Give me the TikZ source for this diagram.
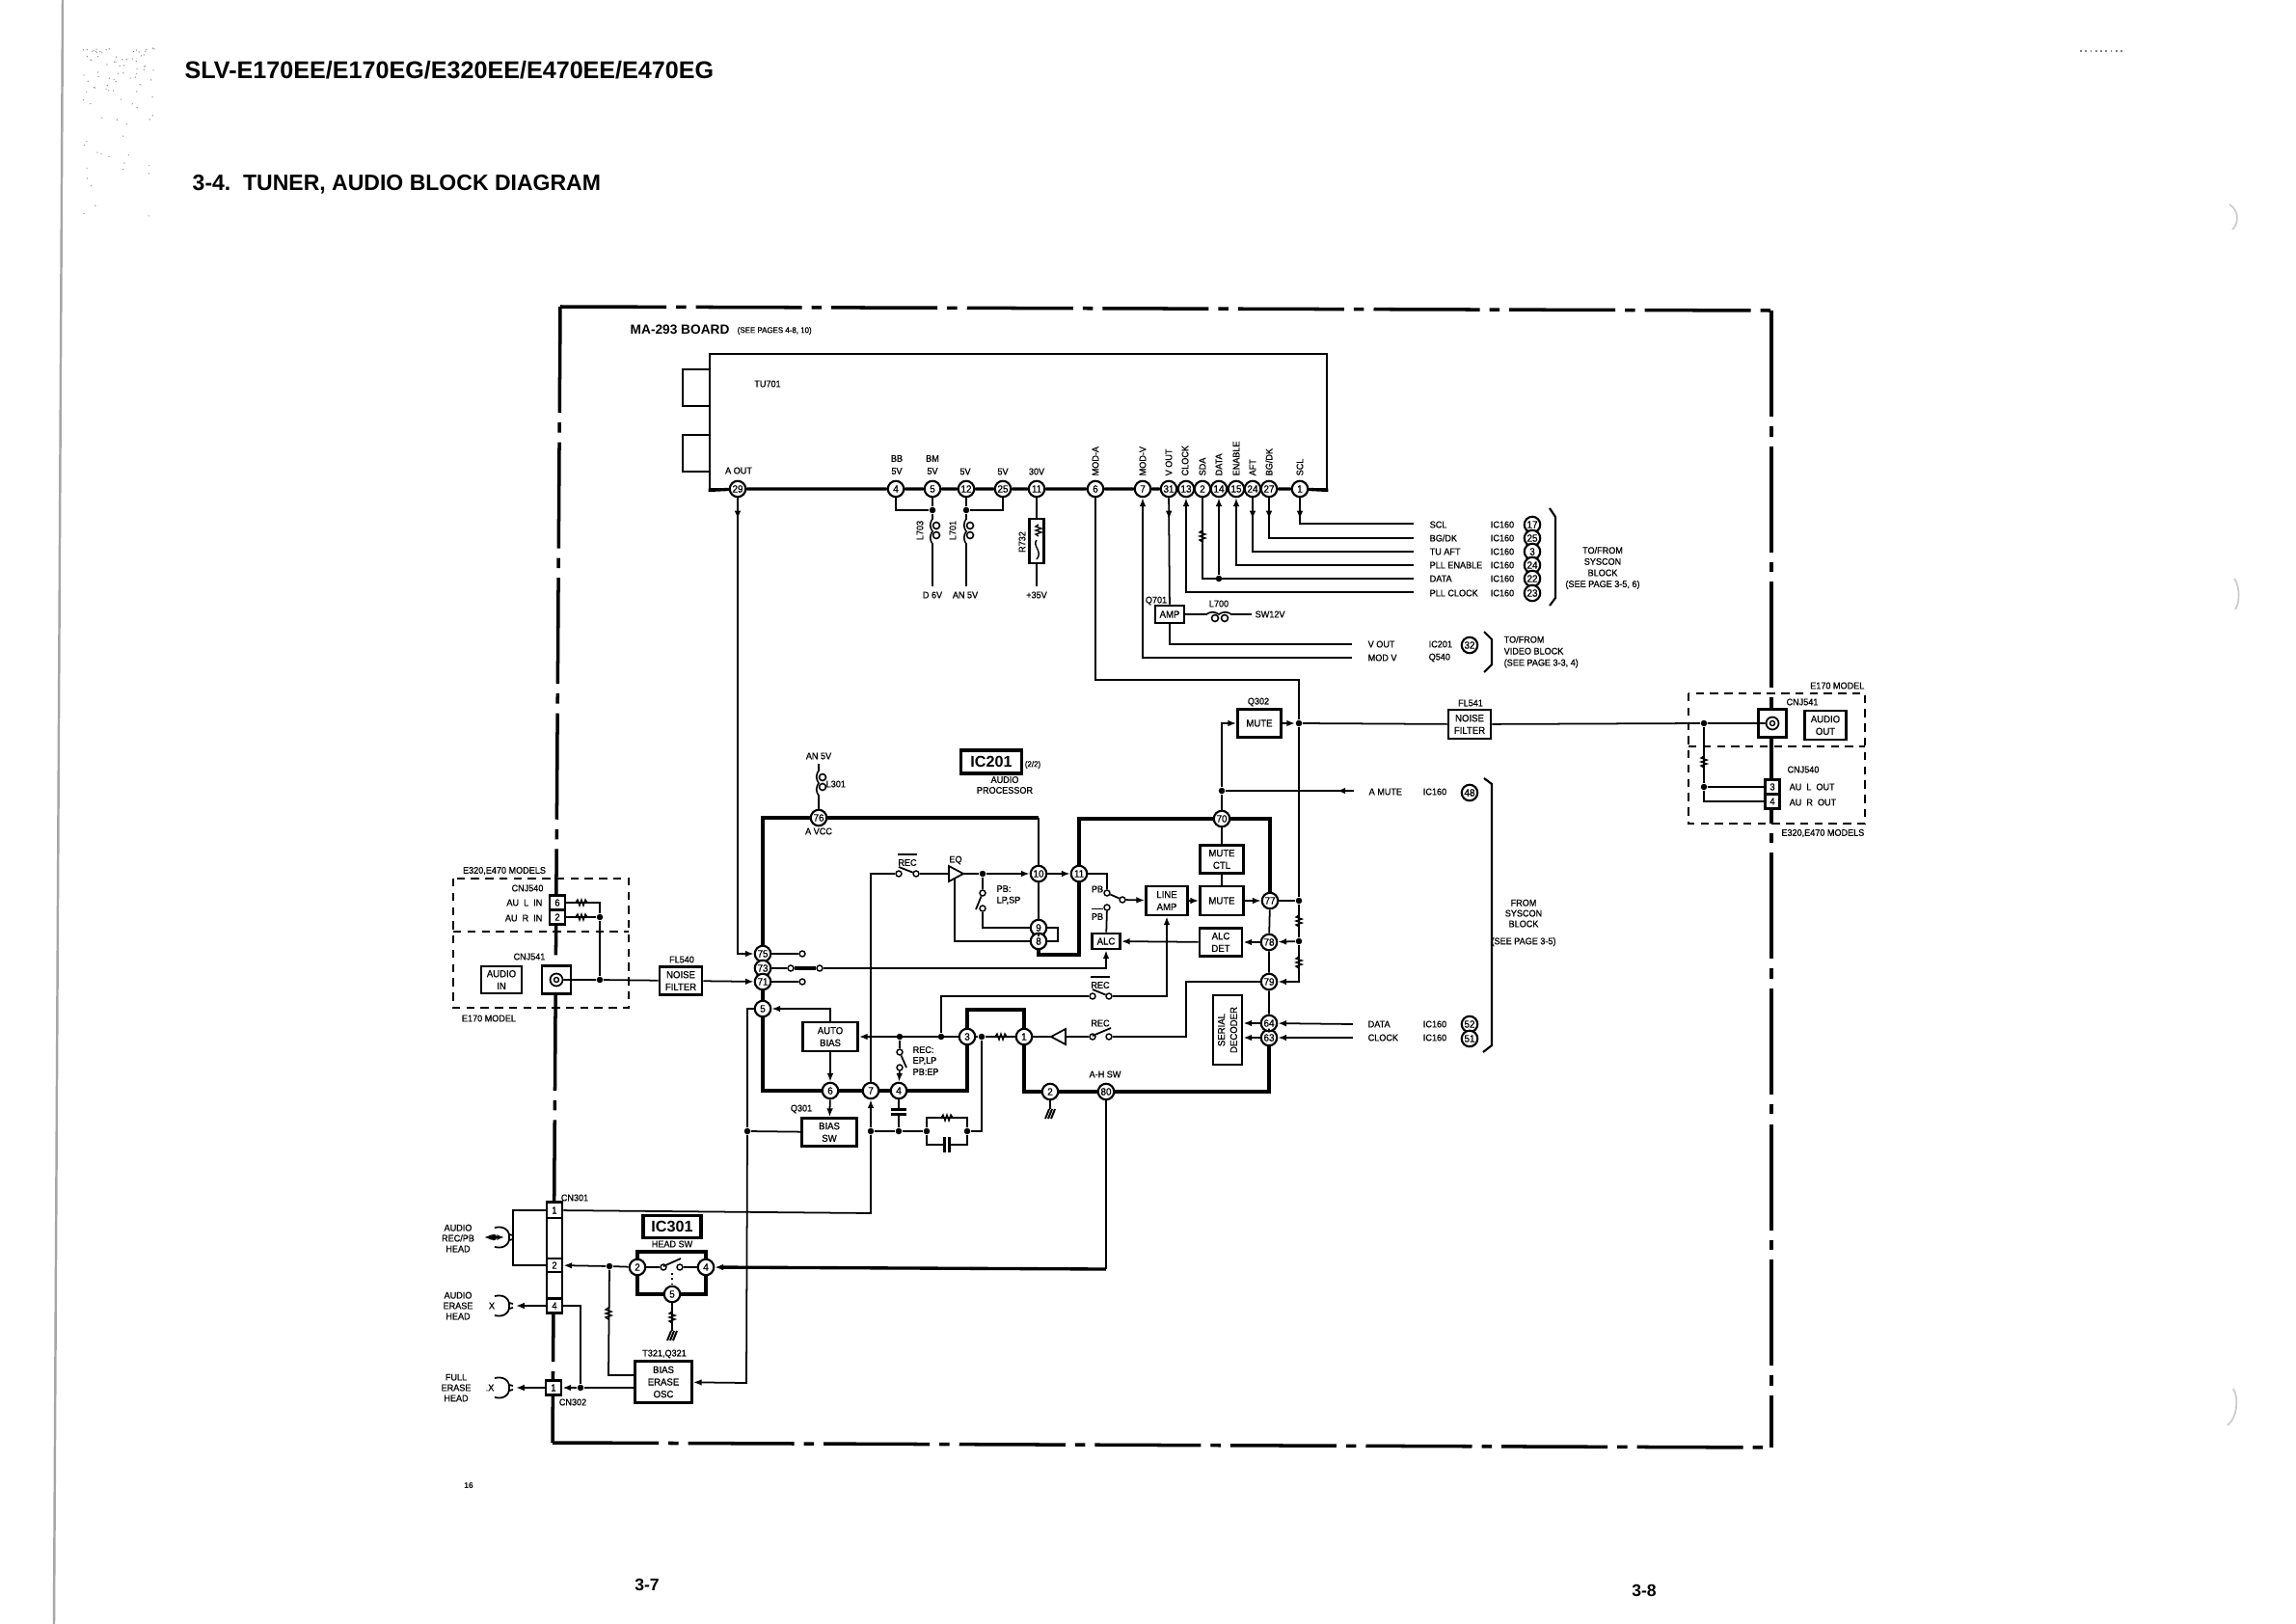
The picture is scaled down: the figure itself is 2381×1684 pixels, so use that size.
\documentclass[tikz,border=0pt]{standalone}
\usepackage{fontspec}
\setmainfont{Liberation Sans}
\newfontfamily\scanfont{Liberation Sans}[FakeBold=0.8, FakeStretch=0.94]
\usetikzlibrary{arrows.meta}
\usetikzlibrary{decorations.markings}

\newcommand{\lblsize}{\scanfont\fontsize{2.75pt}{3.1pt}\selectfont}
\newcommand{\tinysize}{\scanfont\fontsize{2.4pt}{3pt}\selectfont}
\newcommand{\pinsize}{\scanfont\fontsize{3pt}{3pt}\selectfont}
\newcommand{\boxsize}{\scanfont\fontsize{2.9pt}{3.6pt}\selectfont}
\newcommand{\icsize}{\fontsize{4.6pt}{5pt}\selectfont\bfseries}

\tikzset{
  wire/.style={line width=0.5pt},
  heavy/.style={line width=0.72pt},
  bus/.style={line width=0.95pt},
  tip/.style={-{Latex[length=2.5pt,width=1.9pt]}},
  midtip/.style={postaction={decorate},decoration={markings,
    mark=at position #1 with {\arrow{Latex[length=2.5pt,width=1.9pt]}}}},
  frameline/.style={line width=1pt, dash pattern=on 31.3pt off 2.85pt on 3pt off 2.85pt},
  dashbox/.style={line width=0.55pt, dash pattern=on 2.4pt off 1.8pt},
  lbl/.style={font=\lblsize, inner sep=0pt, align=center},
  pinc/.style={circle, draw, fill=white, line width=0.6pt, inner sep=0pt,
    minimum size=1.65mm, font=\pinsize},
  blk/.style args={#1x#2}{rectangle, draw, fill=white, line width=0.8pt, inner sep=0pt,
    align=center, font=\boxsize, minimum width=#1*0.1mm, minimum height=#2*0.1mm},
  jdot/.style={circle, fill=black, inner sep=0pt, minimum size=0.65mm},
  contact/.style={circle, draw, fill=white, line width=0.4pt, inner sep=0pt, minimum size=0.6mm},
  resr/.pic={\draw[line width=0.4pt] (-6,0)--(-4,-3)--(-2,3)--(0,-3)--(2,3)--(4,-3)--(6,0);},
  coilv/.pic={\fill[white] (-4,-12) rectangle (7,12);
    \draw[line width=0.45pt] (0,-13) .. controls (-3,-9) and (-3,-4) .. (0,0)
      .. controls (-3,4) and (-3,9) .. (0,13);
    \draw[line width=0.45pt] (4,-6) circle[radius=3.5] (4,4) circle[radius=3.5];},
  capv/.pic={\fill[white] (-8,-2.5) rectangle (8,2.5);
    \draw[line width=0.7pt] (-8,-2.5)--(8,-2.5) (-8,2.5)--(8,2.5);},
  gndh/.pic={\foreach \i in {-1,0,1}
    \draw[line width=0.55pt] ({\i*3-2},5)--({\i*3+2},-5);},
  triamp/.pic={\draw[line width=0.5pt, fill=white] (0,0)--(15,-8)--(15,8)--cycle;},
  headsym/.pic={\draw[line width=0.5pt] (-15,-10) .. controls (-6,-12) and (-1,-8) .. (0,-3)--(4,-2)
    (-15,10) .. controls (-6,12) and (-1,8) .. (0,3)--(4,2) (0,-3)--(0,3);},
}

\begin{document}
\begin{tikzpicture}[x=0.1mm, y=-0.1mm]
  \useasboundingbox (0,0) rectangle (2381,1684);
  % scan marks on the margins
  \draw[black!35, line width=0.7pt] (65,0) -- (56,1684);
  \draw[black!50, line width=0.5pt, densely dotted] (2157,53) -- (2202,53);
  \draw[black!20, line width=0.5pt] (2312,212) .. controls (2322,218) and (2322,232) .. (2315,238);
  \draw[black!20, line width=0.5pt] (2317,600) .. controls (2323,608) and (2323,625) .. (2318,632);
  \draw[black!20, line width=0.5pt] (2316,1440) .. controls (2322,1450) and (2320,1470) .. (2310,1478);
  \pgfmathsetseed{293}
  \foreach \s in {1,...,90}
    \fill[black!45] ({85+75*rnd},{50+200*rnd*rnd}) circle[radius=0.7];

  % page heads
  \node[font=\fontsize{7.15pt}{8pt}\selectfont\bfseries, anchor=west, inner sep=0pt] (pagehead) at (191,73)
    {SLV-E170EE/E170EG/E320EE/E470EE/E470EG};
  \node[font=\fontsize{6.55pt}{8pt}\selectfont\bfseries, anchor=west, inner sep=0pt] (blockhead) at (199,191)
    {3-4.~~TUNER, AUDIO BLOCK DIAGRAM};
  \node[font=\fontsize{5pt}{6pt}\selectfont\bfseries, inner sep=0pt] (pageL) at (671,1643) {3-7};
  \node[font=\fontsize{5pt}{6pt}\selectfont\bfseries, inner sep=0pt] (pageR) at (1705,1649) {3-8};
  \node[font=\fontsize{2.4pt}{3pt}\selectfont\bfseries, inner sep=0pt] (sheetno) at (486,1541) {16};

  % board outline, model boxes
  \coordinate (frameTL) at (581,318);
  \coordinate (frameTR) at (1837,322);
  \coordinate (frameBL) at (573,1496);
  \coordinate (frameBR) at (1837,1501);
  \draw[frameline] (frameTL) -- (frameTR);
  \draw[frameline] (frameTL) -- (frameBL);
  \draw[frameline] (frameBL) -- (frameBR);
  \draw[frameline] (frameTR) -- (frameBR);
  \draw[dashbox] (470,911) rectangle (652,1045);
  \draw[dashbox] (470,966) -- (652,966);
  \draw[dashbox] (1751,719) rectangle (1934,854);
  \draw[dashbox] (1751,774) -- (1934,774);

  % tuner can
  \node[blk=28x38, line width=0.55pt] (tabA) at (722,402) {};
  \node[blk=28x38, line width=0.55pt] (tabB) at (722,470) {};
  \node[blk=640x140] (tu) at (1056,437) {};

  % all the round pins
  \foreach \n/\lab/\x/\y in {tu29/29/765/507, tu4/4/929/507, tu5/5/967/507, tu12/12/1002/507,
      tu25/25/1040/507, tu11/11/1075/507, tu6/6/1136/507, tu7/7/1185/507, tu31/31/1212/507,
      tu13/13/1230/507, tu2/2/1247/507, tu14/14/1264/507, tu15/15/1282/507, tu24/24/1299/507,
      tu27/27/1316/507, tu1/1/1348/507,
      ic76/76/849/848, ic75/75/791/989, ic73/73/791/1004, ic71/71/791/1018, ic5/5/791/1046,
      ic6/6/861/1131, ic7/7/903/1131, ic4/4/932/1131, ic3/3/1003/1075, ic1/1/1062/1075,
      ic2/2/1089/1132, ic80/80/1147/1132, ic63/63/1316/1076, ic64/64/1316/1061, ic79/79/1316/1018,
      ic78/78/1316/977, ic77/77/1317/934, ic70/70/1267/849, ic11/11/1119/906, ic10/10/1077/906,
      ic9/9/1077/962, ic8/8/1077/976,
      h2/2/661/1314, h4/4/732/1314, h5/5/697/1342,
      sy17/17/1589/544, sy25/25/1589/558, sy3/3/1589/572, sy24/24/1589/586, sy22/22/1589/600,
      sy23/23/1589/615, sy32/32/1524/669, sy48/48/1524/822, sy52/52/1524/1062, sy51/51/1524/1077}
    \node[pinc] (\n) at (\x,\y) {\lab};

  % blocks
  \node[blk=30x18] (amp) at (1213,637) {AMP};
  \node[blk=15x46] (r732) at (1075,561) {};
  \node[blk=45x29] (muteq) at (1306,750) {MUTE};
  \node[blk=44x30] (fl541) at (1524,751) {NOISE\\FILTER};
  \node[blk=43x30] (audioout) at (1893,752) {AUDIO\\OUT};
  \node[blk=29x29] (cnjR) at (1838,750) {};
  \node[blk=15x15] (con3) at (1838,816) {3};
  \node[blk=15x15] (con4) at (1838,831) {4};
  \node[blk=45x29] (mutectl) at (1267,891) {MUTE\\CTL};
  \node[blk=45x30] (mute) at (1267,934) {MUTE};
  \node[blk=44x29] (alcdet) at (1266,977) {ALC\\DET};
  \node[blk=72x30, rotate=90] (serial) at (1273,1068) {SERIAL\\DECODER};
  \node[blk=43x30] (lineamp) at (1210,934) {LINE\\AMP};
  \node[blk=29x16] (alc) at (1147,976) {ALC};
  \node[blk=57x30] (autobias) at (861,1075) {AUTO\\BIAS};
  \node[blk=57x29] (biassw) at (860,1174) {BIAS\\SW};
  \node[blk=44x29] (noise540) at (706,1017) {NOISE\\FILTER};
  \node[blk=30x29] (cnjL) at (577,1016) {};
  \node[blk=42x28] (audioin) at (520,1016) {AUDIO\\IN};
  \node[blk=16x15] (con6) at (578,936) {6};
  \node[blk=16x15] (con2) at (578,951) {2};
  \node[blk=63x24, line width=1pt, font=\icsize] (ic201) at (1028,790) {IC201};
  \node[blk=60x23, line width=1pt, font=\icsize] (ic301) at (697,1272) {IC301};
  \node[blk=59x43] (osc) at (688,1433) {BIAS\\ERASE\\OSC};
  \node[blk=16x115] (cn301) at (575,1304) {};
  \node[blk=16x16] (cell1) at (575,1255) {1};
  \node[blk=16x14] (cell2) at (575,1312) {2};
  \node[blk=16x15] (cell4) at (575,1354) {4};
  \node[blk=16x15] (cn302) at (574,1439) {1};

  % jacks
  \foreach \n/\x/\y in {coaxR/1838/750, coaxL/577/1016}
    \node[circle, draw, fill=white, line width=0.5pt, inner sep=0pt, minimum size=1.3mm] (\n) at (\x,\y) {};
  \foreach \n/\x/\y in {coreR/1838/750, coreL/577/1016}
    \node[circle, draw, line width=0.4pt, inner sep=0pt, minimum size=0.5mm] (\n) at (\x,\y) {};

  % junction dots
  \foreach \n/\x/\y in {dotA/967/529, dotB/1002/529, dotData/1264/600, dotQ/1347/750, dotE/1767/750,
      dotF/1767/816, dotMute/1267/820, dotG/1347/934, dotH/1347/976, dotI/622/1016, dotJ/622/951,
      dotK/976/1075, dotL/933/1075, dotM/1018/1075, dotN/1003/1173, dotO/961/1173, dotP/932/1173,
      dotR/903/1173, dotS/775/1173, dotT/632/1313, dotU/602/1439, dotEq/1019/906}
    \node[jdot] (\n) at (\x,\y) {};

  % switch contacts
  \foreach \n/\x/\y in {conPBa/1148/926, conPBb/1164/933, conPBc/1148/941, con75/832/989,
      con73a/820/1004, con73b/850/1004, con71/832/1018, conEqa/932/906, conEqb/950/906,
      conLpa/1019/926, conLpb/1019/942, conRba/1133/1033, conRbb/1150/1033, conReca/1133/1075,
      conRecb/1150/1075, conEpa/933/1091, conEpb/933/1107, conHa/688/1314, conHb/705/1314}
    \node[contact] (\n) at (\x,\y) {};

  % bends and free ends
  \foreach \n/\x/\y in {endD6/967/608, endAN/1002/608, end35/1075/608, endSCL/1466/543, endBG/1466/558,
      endAFT/1466/572, endENA/1466/586, endDATA/1466/600, endCLK/1466/614, endVOUT/1402/668,
      endMODV/1402/682, bendMod/1347/705, endAM/1404/820, endIn64/1403/1062, endIn63/1403/1076,
      bendVcc/1077/848, bendSw/1119/990, bendTop/1062/1047, bend9r/1097/962, bend8r/1097/976,
      eqFoot/990/911, bendRec/1230/1018, bendRecB/1230/1075, bendLa/622/936, topAn/849/792,
      rcA/1003/1159, rcB/961/1159, rcC/1003/1187, rcD/961/1187, bendHead/903/1258, bend5/775/1046,
      bendOsc/774/1434, gndA/1089/1150, gndB/697/1380, hTopL/661/1298, hTopR/732/1298,
      oscInA/631/1426, oscInB/659/1426, oscOut/659/1439, bendE/602/1354, tipB/535/1354, tipC/535/1439,
      loopA/532/1255, loopB/532/1312, headL/502/1283, headR/523/1283, endSW/1298/637, bend80/1147/1316}
    \coordinate (\n) at (\x,\y);

  % tuner pins
  \draw[bus] (tu.south west) -- (tu29) -- (tu4) -- (tu5) -- (tu12) -- (tu25) -- (tu11) -- (tu6) -- (tu7)
    -- (tu31) -- (tu13) -- (tu2) -- (tu14) -- (tu15) -- (tu24) -- (tu27) -- (tu1) -- (tu.south east);
  \draw[wire, tip, midtip=6.3pt] (tu29) |- (ic75);
  \draw[wire] (tu4) |- (dotA);
  \draw[wire] (tu5) -- (dotA) -- (endD6);
  \draw[wire] (tu12) -- (dotB) -- (endAN);
  \draw[wire] (tu25) |- (dotB);
  \draw[wire] (tu11) -- (r732) -- (end35);
  \draw[heavy, midtip=6.3pt] (tu1) |- (endSCL);
  \draw[wire, midtip=6.3pt] (tu27) |- (endBG);
  \draw[wire, midtip=6.3pt] (tu24) |- (endAFT);
  \draw[wire, tip] (endENA) -| (tu15);
  \draw[wire] (tu2) |- (endDATA);
  \draw[wire, tip] (dotData) -- (tu14);
  \draw[wire, tip] (endCLK) -| (tu13);
  \draw[wire, midtip=6.3pt] (tu31) -- (amp);
  \draw[heavy] (amp) |- (endVOUT);
  \draw[wire, tip] (endMODV) -| (tu7);
  \draw[wire] (tu6) |- (bendMod) -- (dotQ);
  \draw[wire] (amp) -- (endSW);

  % audio out side
  \draw[wire, tip] (dotMute) |- (muteq);
  \draw[wire, tip] (muteq) -- (dotQ);
  \draw[wire] (dotQ) -- (fl541);
  \draw[wire] (fl541) -- (dotE) -- (coaxR);
  \draw[wire] (dotE) -- (dotF) -- (con3);
  \draw[wire] (dotF) |- (con4);
  \draw[wire] (ic70) -- (dotMute);
  \draw[wire, midtip=5pt] (endAM) -- (dotMute);
  \draw[wire] (dotQ) -- (dotG) -- (dotH);
  \draw[wire, tip] (dotH) |- (ic79);
  \draw[wire, tip] (dotH) -- (ic78);
  \draw[wire] (ic77) -- (dotG);

  % IC201 rails
  \draw[wire] (topAn) -- (ic76);
  \draw[bus] (ic76) -| (ic75);
  \draw[bus] (ic76) -- (bendVcc);
  \draw[wire] (bendVcc) -- (ic10);
  \draw[wire] (ic10) -- (ic9) -- (ic8);
  \draw[bus] (ic8) |- (bendSw) -- (ic11);
  \draw[bus] (ic11) |- (ic70);
  \draw[bus] (ic70) -| (ic77);
  \draw[wire] (ic77) -- (ic78) -- (ic79) -- (ic64) -- (ic63);
  \draw[bus] (ic63) |- (ic80);
  \draw[bus] (ic80) -- (ic2);
  \draw[bus] (ic2) -| (ic1);
  \draw[bus] (ic71) -- (ic5);
  \draw[bus] (ic5) |- (ic6);
  \draw[bus] (ic6) -- (ic7) -- (ic4);
  \draw[bus] (ic4) -| (ic3);
  \draw[bus] (ic3) |- (bendTop) -- (ic1);

  % IC201 signal path, right half
  \draw[wire, tip] (ic10) -- (ic11);
  \draw[wire] (ic11) -| (conPBa);
  \draw[wire] (conPBa) -- (conPBb);
  \draw[wire, tip] (conPBb) -- (lineamp);
  \draw[wire] (conPBc) -- (alc);
  \draw[wire, tip] (alcdet) -- (alc);
  \draw[wire, tip] (ic78) -- (alcdet);
  \draw[wire, tip] (lineamp) -- (mute);
  \draw[wire, tip] (mute) -- (ic77);
  \draw[wire] (mutectl) -- (ic70);
  \draw[wire] (mutectl) -- (mute);
  \draw[wire, tip] (endIn64) -- (ic64);
  \draw[wire, tip] (endIn63) -- (ic63);
  \draw[wire, tip] (ic64) -- (ic64 -| serial.south);
  \draw[wire, tip] (ic63) -- (ic63 -| serial.south);
  \draw[wire] (ic79) -- (bendRec) -- (bendRecB) -- (conRecb);

  % IC201 signal path, left half
  \draw[wire] (ic75) -- (con75);
  \draw[wire] (ic73) -- (con73a);
  \draw[bus] (con73a) -- (con73b);
  \draw[wire, tip] (con73b) -| (alc);
  \draw[wire] (ic71) -- (con71);
  \draw[wire, tip] (noise540) -- (ic71);
  \draw[wire] (coaxL) -- (dotI) -- (noise540);
  \draw[wire] (con6) -- (bendLa) -- (dotJ);
  \draw[wire] (con2) -- (dotJ) -- (dotI);
  \draw[wire, tip] (autobias) |- (ic5);
  \draw[wire, tip] (autobias) -- (ic6);
  \draw[wire, tip] (ic6) -- (biassw);
  \draw[wire, tip] (ic3) -- (autobias);
  \draw[wire] (dotK) |- (conRba);
  \draw[wire] (conRba) ++(0,-7) -- (conRbb);
  \draw[wire, tip] (conRbb) -| (lineamp);
  \draw[wire] (dotL) -- (conEpa);
  \draw[wire] (conEpa) -- ++(7,16);
  \draw[wire, tip] (conEpb) -- (ic4);
  \draw[wire] (ic3) -- (dotM) -- (ic1);
  \draw[wire] (dotM) |- (dotN);
  \draw[wire] (dotN) -- (rcA) -- (rcB) -- (dotO);
  \draw[wire] (dotN) -- (rcC) -- (rcD) -- (dotO);
  \draw[wire] (dotO) -- (dotP) -- (dotR);
  \draw[wire] (ic4) -- (dotP);
  \draw[wire, tip] (dotR) -- (ic7);
  \draw[wire] (dotR) -- (bendHead) -- (cell1);
  \draw[wire] (ic7) |- (conEqa);
  \draw[wire] (conEqa) ++(0,-7) -- (conEqb);
  \draw[wire] (conEqb) -- (dotEq);
  \draw[wire, tip] (dotEq) -- (ic10);
  \draw[wire] (dotEq) -- (conLpa);
  \draw[wire] (conLpa) -- ++(-7,17);
  \draw[wire] (conLpb) |- (ic9);
  \draw[wire] (ic9) -- (bend9r) -- (bend8r) -- (ic8);
  \draw[wire] (eqFoot) |- (ic8);
  \draw[wire] (conReca) -- (ic1);
  \draw[wire] (conReca) ++(0,-1) -- ++(19,-8);
  \draw[wire] (ic2) -- (gndA);
  \draw[wire] (biassw) -- (dotS);
  \draw[wire] (ic5) -- (bend5) -- (dotS);
  \draw[wire, tip] (dotS) -- (bendOsc) -- (osc);

  % IC301 and the heads
  \draw[wire] (ic80) -- (bend80);
  \draw[bus, tip] (bend80) -- (h4);
  \draw[bus] (h2) -- (hTopL) -- (hTopR) -- (h4);
  \draw[bus] (h2) |- (h5);
  \draw[bus] (h4) |- (h5);
  \draw[wire] (h2) -- (conHa);
  \draw[wire] (conHa) ++(0,-1) -- ++(18,-8);
  \draw[wire] (conHb) -- (h4);
  \draw[wire, densely dotted] (conHb -| h5) ++(0,6) -- (h5);
  \draw[wire] (h5) -- (gndB);
  \draw[wire, tip] (h2) -- (dotT) -- (cell2);
  \draw[wire] (dotT) -- (oscInA) -- (oscInB);
  \draw[wire, tip] (oscOut) -- (dotU) -- (cn302);
  \draw[wire] (cell4) -- (bendE) -- (dotU);
  \draw[wire, tip] (cell4) -- (tipB);
  \draw[wire, tip] (cn302) -- (tipC);
  \draw[wire] (cell1) -- (loopA) -- (loopB) -- (cell2);
  \draw[wire, {Latex[length=2.2pt,width=1.7pt]}-{Latex[length=2.2pt,width=1.7pt]}] (headL) -- (headR);
  \node[jdot] (headDot) at (512,1283) {};

  % parts sitting on the wires
  \pic at (967,551) {coilv};
  \pic at (1002,551) {coilv};
  \pic at (849,812) {coilv};
  \pic[rotate=-90] at (1264,637) {coilv};
  \foreach \x/\y in {1077/550, 1247/556, 1767/790, 1347/955, 1347/998, 631/1362, 697/1366}
    \pic[rotate=90] at (\x,\y) {resr};
  \foreach \x/\y in {603/936, 603/951, 1038/1075, 982/1159}
    \pic at (\x,\y) {resr};
  \draw[line width=0.4pt] (1075,560) .. controls (1070,566) and (1082,572) .. (1075,580);
  \pic at (932,1153) {capv};
  \pic[rotate=90] at (982,1187) {capv};
  \foreach \x/\y in {1089/1155, 697/1385}
    \pic at (\x,\y) {gndh};
  \pic at (1090,1075) {triamp};
  \pic[rotate=180] at (999,906) {triamp};
  \foreach \x/\y in {528/1283, 528/1354, 528/1439}
    \pic at (\x,\y) {headsym};

  % board and block labels
  \node[font=\fontsize{3.9pt}{4pt}\selectfont\bfseries, anchor=west, inner sep=0pt] (boardname) at (653,342) {MA-293 BOARD};
  \node[lbl, anchor=west, font=\tinysize] (boardref) at (764,343) {(SEE PAGES 4-8, 10)};
  \node[lbl] (tuname) at (796,398) {TU701};
  \node[lbl] (aout) at (766,488) {A OUT};
  \node[lbl] (txtBB) at (930,482) {BB\\[0.6pt]5V};
  \node[lbl] (txtBM) at (967,482) {BM\\[0.6pt]5V};
  \node[lbl] (txt5a) at (1001,489) {5V};
  \node[lbl] (txt5b) at (1040,489) {5V};
  \node[lbl] (txt30) at (1075,489) {30V};
  \foreach \n/\lab/\x in {rMODA/MOD-A/1136, rMODV/MOD-V/1185, rVOUT/V OUT/1212, rCLOCK/CLOCK/1229,
      rSDA/SDA/1247, rDATA/DATA/1264, rENABLE/ENABLE/1282, rAFT/AFT/1299, rBGDK/BG\slash DK/1316, rSCL/SCL/1348}
    \node[lbl, rotate=90, anchor=west] (\n) at (\x,494) {\lab};
  \foreach \n/\lab/\x/\y in {rL703/L703/954/550, rL701/L701/988/550, rR732/R732/1060/562}
    \node[lbl, rotate=90] (\n) at (\x,\y) {\lab};
  \foreach \n/\lab/\x in {txtD6/D 6V/967, txtAN/AN 5V/1001, txt35/+35V/1075}
    \node[lbl] (\n) at (\x,617) {\lab};
  \foreach \n/\lab/\y in {sSCL/SCL/544, sBG/BG\slash DK/558, sAFT/TU AFT/572, sENA/PLL ENABLE/586,
      sDATA/DATA/600, sCLK/PLL CLOCK/615}
    \node[lbl, anchor=west] (\n) at (1482,\y) {\lab};
  \foreach \n/\y in {i1/544, i2/558, i3/572, i4/586, i5/600, i6/615}
    \node[lbl] (\n) at (1558,\y) {IC160};
  \node[lbl] (tosys) at (1662,589) {TO\slash FROM\\[0.2pt]SYSCON\\[0.2pt]BLOCK\\[0.2pt](SEE PAGE 3-5, 6)};
  \node[lbl] (q701) at (1199,623) {Q701};
  \node[lbl] (l700) at (1264,626) {L700};
  \node[lbl, anchor=west] (sw12) at (1301,637) {SW12V};
  \node[lbl, anchor=west] (vout) at (1418,668) {V OUT};
  \node[lbl, anchor=west] (modv) at (1418,682) {MOD V};
  \node[lbl, anchor=west] (vic) at (1481,668) {IC201};
  \node[lbl, anchor=west] (vq) at (1481,682) {Q540};
  \node[lbl, anchor=west, align=left] (tovid) at (1559,676) {TO\slash FROM\\[0.3pt]VIDEO BLOCK\\[0.3pt](SEE PAGE 3-3, 4)};
  \node[lbl] (q302) at (1305,728) {Q302};
  \node[lbl] (fl541t) at (1525,729) {FL541};
  \node[lbl, anchor=east] (e170r) at (1934,711) {E170 MODEL};
  \node[lbl] (cnj541r) at (1869,728) {CNJ541};
  \node[lbl] (cnj540r) at (1870,798) {CNJ540};
  \node[lbl, anchor=west] (aulo) at (1855,816) {AU~~L~~OUT};
  \node[lbl, anchor=west] (auro) at (1855,832) {AU~~R~~OUT};
  \node[lbl, anchor=east] (e320r) at (1934,864) {E320,E470 MODELS};
  \node[lbl, anchor=west] (amutet) at (1419,821) {A MUTE};
  \foreach \n/\lab/\y in {tdata/DATA/1062, tclock/CLOCK/1076}
    \node[lbl, anchor=west] (\n) at (1418,\y) {\lab};
  \foreach \n/\y in {ia/821, ib/1062, ic/1076}
    \node[lbl] (\n) at (1488,\y) {IC160};
  \node[lbl] (fromsys) at (1580,957) {FROM\\SYSCON\\BLOCK\\[2pt](SEE PAGE 3-5)};
  \node[lbl, font=\tinysize] (part22) at (1071,793) {(2/2)};
  \node[lbl] (audioproc) at (1042,814) {AUDIO\\PROCESSOR};
  \node[lbl] (an5) at (849,784) {AN 5V};
  \node[lbl, anchor=west] (l301) at (856,813) {L301};
  \node[lbl] (avcc) at (849,862) {A VCC};
  \node[lbl] (recb1) at (941,891) {$\overline{\mbox{REC}}$};
  \node[lbl] (eqt) at (991,892) {EQ};
  \node[lbl, anchor=west, align=left] (pblp) at (1033,928) {PB:\\[0.2pt]LP,SP};
  \node[lbl] (pbt) at (1138,922) {PB};
  \node[lbl] (pbb) at (1138,947) {$\overline{\mbox{PB}}$};
  \node[lbl] (recb2) at (1141,1018) {$\overline{\mbox{REC}}$};
  \node[lbl] (rec2) at (1141,1061) {REC};
  \node[lbl] (ahsw) at (1146,1114) {A-H SW};
  \node[lbl, anchor=west, align=left] (recep) at (946,1100) {REC:\\EP,LP\\[0.3pt]PB:EP};
  \node[lbl] (q301) at (831,1150) {Q301};
  \node[lbl] (fl540) at (707,995) {FL540};
  \node[lbl] (e320l) at (523,903) {E320,E470 MODELS};
  \node[lbl] (cnj540l) at (547,921) {CNJ540};
  \node[lbl, anchor=east] (auli) at (563,936) {AU~~L~~IN};
  \node[lbl, anchor=east] (auri) at (563,952) {AU~~R~~IN};
  \node[lbl] (cnj541l) at (549,992) {CNJ541};
  \node[lbl] (e170l) at (507,1056) {E170 MODEL};
  \node[lbl] (cn301t) at (596,1242) {CN301};
  \node[lbl] (cn302t) at (594,1454) {CN302};
  \node[lbl] (headsw) at (697,1290) {HEAD SW};
  \node[lbl] (t321) at (689,1404) {T321,Q321};
  \node[lbl] (headA) at (475,1284) {AUDIO\\REC\slash PB\\HEAD};
  \node[lbl] (headB) at (475,1354) {AUDIO\\ERASE\\HEAD};
  \node[lbl] (headC) at (473,1439) {FULL\\ERASE\\HEAD};
  \node[lbl] (xB) at (510,1354) {X};
  \node[lbl] (xC) at (508,1439) {.X};

  % the brackets
  \draw[line width=0.6pt] (1607,527) -- (1613,536) -- (1613,620) -- (1607,628);
  \draw[line width=0.6pt] (1539,655) -- (1547,663) -- (1547,689) -- (1539,697);
  \draw[line width=0.6pt] (1539,807) -- (1547,813) -- (1547,1084) -- (1538,1091);
\end{tikzpicture}
\end{document}
